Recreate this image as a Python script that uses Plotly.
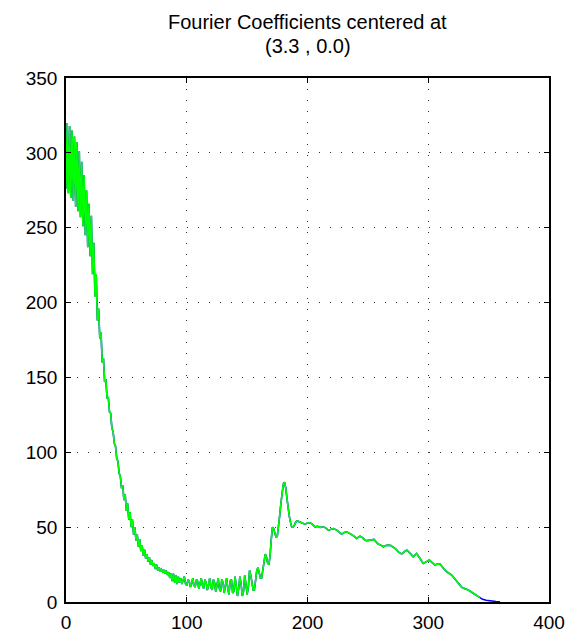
import plotly.graph_objects as go

# ---- data ----
title_lines = ["Fourier Coefficients centered at", "(3.3 , 0.0)"]

# dense part: one sample per unit from 0 to 192
x_dense = list(range(0, 193))
y_dense = [
    276, 320, 273, 318, 270, 315, 268, 311, 264, 307,
    261, 301, 257, 294, 251, 285, 245, 275, 237, 266,
    231, 258, 219, 240, 204, 219, 188, 196, 176, 180,
    160, 163, 147, 149, 136, 137, 127, 126, 116, 114,
    106, 104, 96, 94, 86, 84, 76, 78, 68, 72,
    61, 66, 55, 60, 50, 55, 45, 50, 41, 45,
    37, 42, 34, 38, 31, 35, 29, 32, 27, 30,
    25, 28, 24, 26, 22, 25, 21, 23, 21, 22,
    20, 21, 19, 21, 18, 20, 16, 19, 14, 19,
    13, 18, 12, 17, 13, 16, 12, 15, 17, 12,
    11, 15, 14, 10, 12, 16, 11, 10, 15, 14,
    9, 12, 16, 11, 9, 15, 13, 8, 11, 16,
    10, 8, 15, 13, 7, 11, 16, 9, 7, 15,
    13, 6, 10, 16, 9, 5, 14, 15, 6, 7,
    17, 12, 4, 9, 17, 12, 4, 7, 18, 12,
    5, 10, 21, 18, 12, 8, 8, 14, 21, 23,
    20, 16, 16, 22, 29, 32, 30, 26, 25, 31,
    42, 50, 49, 45, 43, 44, 50, 58, 66, 74,
    79, 80, 76, 69, 62, 57, 53, 50, 50, 51,
    53, 54, 54,
]

# smoother tail of the green curve
x_tail = [195.5, 197.9, 200, 202, 204, 206.2, 208.5, 210.4, 213.1, 215,
          217.2, 219.5, 221.4, 224.2, 226, 228.3, 230.5, 232.5, 234.5, 236.6,
          238.5, 240.7, 243.5, 245.5, 247.6, 249.5, 251.8, 255.1, 257, 258.6,
          260.5, 262.8, 265, 266.9, 269, 271, 273, 275.2, 278, 280,
          282.2, 285, 287.6, 290.4, 293, 295.9, 298.5, 300.9, 303, 305.6,
          307.5, 309.7, 312.5, 315.3, 319.4, 323.6, 327.7, 330.5, 333.2, 336,
          338.7, 340.8, 342.9]
y_tail = [52.8, 52, 52.8, 52.9, 52, 50.2, 50.5, 49.8, 50.2, 49.5,
          48, 48.5, 49.1, 48, 47, 45.3, 46.5, 46.9, 46, 45.1,
          44, 42.4, 44, 43, 41.3, 41, 41.3, 41.8, 40, 38.7,
          38, 36.9, 37.8, 38, 37.7, 36.5, 35.5, 33.5, 32, 33.5,
          34.7, 32.5, 30.2, 32.4, 29.5, 25.8, 27, 28, 26.5, 24.7,
          25.3, 25.3, 22.5, 20.2, 18, 13.5, 9.8, 8.8, 8, 6.5,
          5.1, 4, 2.9]

# blue curve continues a little further to zero
x_blue_end = [345, 348, 352, 356, 359.5]
y_blue_end = [1.8, 1.2, 0.6, 0.3, 0.2]

x_green = x_dense + x_tail
y_green = y_dense + y_tail
x_blue = x_green + x_blue_end
y_blue = y_green + y_blue_end

x_ticks = [0, 100, 200, 300, 400]
y_ticks = [0, 50, 100, 150, 200, 250, 300, 350]

FONT = "Liberation Sans, Arial, sans-serif"

# ---- figure ----
fig = go.Figure()
fig.add_trace(go.Scatter(x=x_blue, y=y_blue, mode="lines",
                         line=dict(color="#0000ff", width=1.6),
                         showlegend=False, hoverinfo="skip"))
fig.add_trace(go.Scatter(x=x_green, y=y_green, mode="lines",
                         line=dict(color="#00ff00", width=1.6),
                         showlegend=False, hoverinfo="skip"))

axis_common = dict(
    showline=True, linecolor="black", linewidth=1.6, mirror="ticks",
    ticks="inside", ticklen=5, tickwidth=1.2, tickcolor="black",
    showgrid=True, gridcolor="#333333", gridwidth=1, griddash="1px,10px",
    zeroline=False, automargin=False,
    tickfont=dict(family=FONT, size=19, color="black"),
)

fig.update_xaxes(range=[0, 400], tickvals=x_ticks, ticklabelstandoff=2, **axis_common)
fig.update_yaxes(range=[0, 350], tickvals=y_ticks, ticklabelstandoff=3, **axis_common)

# title lines placed as centred text above the axes
title_y = [1.107, 1.061]
for line, yy in zip(title_lines, title_y):
    fig.add_annotation(text=line, xref="paper", yref="paper", x=0.5, y=yy,
                       xanchor="center", yanchor="middle", showarrow=False,
                       font=dict(family=FONT, size=20, color="black"))

fig.update_layout(
    width=575, height=639,
    margin=dict(l=66, r=26, t=78, b=37),
    paper_bgcolor="white", plot_bgcolor="white",
)

fig.write_html("out.html")
